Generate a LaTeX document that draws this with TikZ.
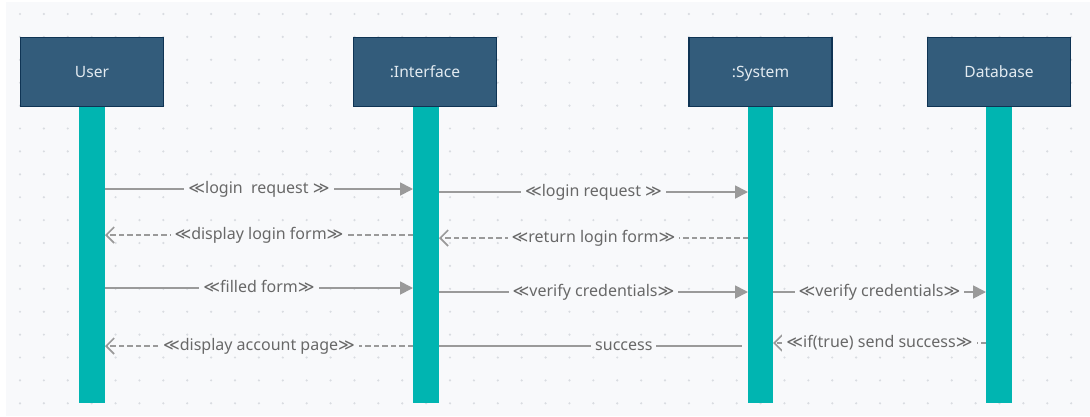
\documentclass[tikz,border=0pt]{standalone}
\usepackage{fontspec}
\setmainfont{Noto Sans}
\newfontfamily\symfont{DejaVu Sans}
\usetikzlibrary{arrows.meta}

\definecolor{canvas}{HTML}{F8F9FB}
\definecolor{griddot}{HTML}{D9DCE1}
\definecolor{headfill}{HTML}{335C7B}
\definecolor{headline}{HTML}{0F3454}
\definecolor{headtext}{HTML}{E2EAF0}
\definecolor{bar}{HTML}{00B5B1}
\definecolor{msgline}{HTML}{9A9A9A}
\definecolor{msgtext}{HTML}{686868}

% stereotype brackets
\newcommand\stOpen{{\symfont ≪}}
\newcommand\stClose{{\symfont ≫}}

\tikzset{
  head/.style={draw=headline, line width=1.4pt, fill=headfill, text=headtext,
    minimum width=143pt, minimum height=69pt, inner sep=0pt,
    text height=11.1pt, text depth=0pt,
    font=\fontsize{15.6}{18}\selectfont},
  lifebar/.style={fill=bar, draw=none},
  msg/.style={draw=msgline, line width=1.8pt,
    -{Triangle[length=13pt,width=13pt]}},
  reply/.style={draw=msgline, line width=1.6pt, dash pattern=on 5.5pt off 3pt,
    -{Straight Barb[length=8pt,width=16pt,line width=1.6pt]}},
  plain/.style={draw=msgline, line width=1.8pt},
  lbl/.style={fill=canvas, text=msgtext, inner xsep=4pt, inner ysep=2pt,
    text height=12pt, text depth=3.4pt,
    font=\fontsize{16}{19}\selectfont},
}

\begin{document}
\begin{tikzpicture}[x=1pt,y=-1pt]
  \useasboundingbox (0,0) rectangle (1090,416);
  \fill[white] (0,0) rectangle (1090,416);
  \fill[canvas] (6,2) rectangle (1090,416);

  % dotted grid
  \foreach \i in {0,...,44}{
    \foreach \j in {0,...,17}{
      \fill[griddot] (20+\i*23.89, 14+\j*22.9) circle (1.2pt);
    }
  }

  % lifeline heads
  \node[head] (user) at (92,72)  {User};
  \node[head] (intf) at (425,72) {:Interface};
  \node[head] (sys)  at (760.5,72) {:System};
  \node[head] (db)   at (999,72) {Database};

  % activation bars
  \fill[lifebar] (79,107.2)  rectangle (105,403);
  \fill[lifebar] (413,107.2) rectangle (439,403);
  \fill[lifebar] (748,107.2) rectangle (773,403);
  \fill[lifebar] (986,107.2) rectangle (1012,403);

  % message end points on the bars
  \coordinate (u1) at (105,189);  \coordinate (i1) at (413,189);
  \coordinate (i1b) at (439,192); \coordinate (s1) at (748,192);
  \coordinate (i2) at (413,235);  \coordinate (u2) at (105,235);
  \coordinate (s2) at (748,238);  \coordinate (i2b) at (439,238);
  \coordinate (u3) at (105,288);  \coordinate (i3) at (413,288);
  \coordinate (i3b) at (439,292); \coordinate (s3) at (748,292);
  \coordinate (s3b) at (773,292); \coordinate (d3) at (986,292);
  \coordinate (i4) at (413,346);  \coordinate (u4) at (105,346);
  \coordinate (i4b) at (439,346); \coordinate (s4) at (742,346);
  \coordinate (d4) at (986,343);  \coordinate (s4b) at (773,343);

  % messages
  \draw[msg] (u1) -- node[lbl] (m1) {\stOpen login~ request \stClose} (i1);
  \draw[msg] (i1b) -- node[lbl] (m2) {\stOpen login request \stClose} (s1);
  \draw[reply] (i2) -- node[lbl] (m3) {\stOpen display login form\stClose} (u2);
  \draw[reply] (s2) -- node[lbl] (m4) {\stOpen return login form\stClose} (i2b);
  \draw[msg] (u3) -- node[lbl] (m5) {\stOpen filled form\stClose} (i3);
  \draw[msg] (i3b) -- node[lbl] (m6) {\stOpen verify credentials\stClose} (s3);
  \draw[msg] (s3b) -- node[lbl] (m7) {\stOpen verify credentials\stClose} (d3);
  \draw[reply] (i4) -- node[lbl] (m8) {\stOpen display account page\stClose} (u4);
  \draw[plain] (i4b) -- node[lbl,pos=0.61] (m9) {success} (s4);
  \draw[reply] (d4) -- node[lbl] (m10) {\stOpen if(true) send success\stClose} (s4b);
\end{tikzpicture}
\end{document}
